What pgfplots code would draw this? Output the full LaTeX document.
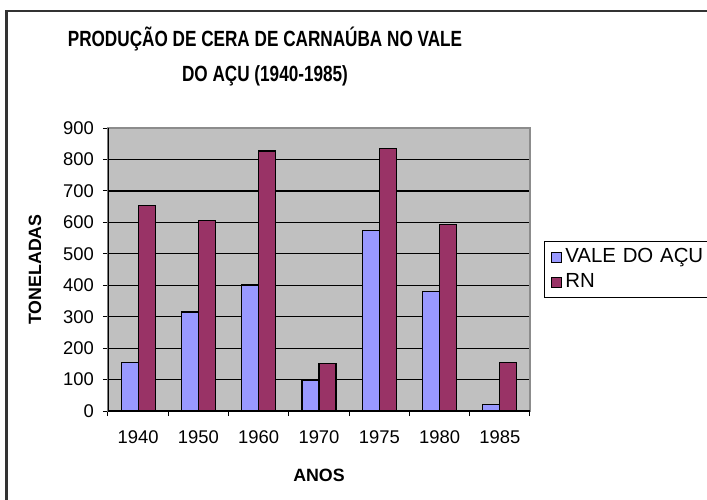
\documentclass[border=0pt]{standalone}
\usepackage{fontspec}
\setmainfont{Liberation Sans}
\usepackage{pgfplots}
\pgfplotsset{compat=1.18}

\definecolor{vale}{HTML}{9999FF}
\definecolor{rn}{HTML}{993366}
\definecolor{plotbg}{HTML}{C0C0C0}

\begin{document}
\begin{tikzpicture}
% page is 707x499 px, 1px = 0.5pt, origin at lower-left corner of plot area
\useasboundingbox (-54pt,-44pt) rectangle (299.5pt,205.5pt);
\clip (-54pt,-44pt) rectangle (299.5pt,205.5pt);
\draw[line width=1.2pt,black!80] (-50.75pt,-80pt) -- (-50.75pt,200pt) -- (330pt,200pt);
\begin{axis}[
  scale only axis, width=211pt, height=141.5pt,
  ybar=0pt, bar width=8.5pt,
  xmin=-0.5, xmax=6.5, ymin=0, ymax=900,
  xtick={0,...,6},
  xticklabels={1940,1950,1960,1970,1975,1980,1985},
  minor xtick={-0.5,0.5,...,6.5},
  ytick={0,100,...,900},
  major x tick style={draw=none},
  minor tick length=2.5pt, major tick length=2.5pt,
  tick align=outside, xtick pos=bottom, ytick pos=left,
  tick style={black, line width=0.5pt},
  ymajorgrids, grid style={black, line width=0.6pt},
  axis background/.style={fill=plotbg},
  axis line style={draw=gray!90, line width=0.6pt},
  /pgf/number format/assume math mode=true,
  tick label style={font=\fontsize{9.2}{10}\selectfont},
  xticklabel style={yshift=-4pt},
  yticklabel style={xshift=-1pt},
  xlabel={ANOS}, ylabel={TONELADAS},
  label style={font=\fontsize{8.9}{10}\selectfont\bfseries},
  xlabel style={at={(axis description cs:0.5,-0.226)}, anchor=center},
  ylabel style={at={(axis description cs:-0.173,0.5)}, anchor=center},
  legend style={at={(axis description cs:1.0332,0.6007)}, anchor=north west,
    draw=black, line width=0.5pt, fill=white,
    font=\fontsize{10.2}{11}\selectfont, text width=80pt,
    inner xsep=3pt, inner ysep=1.5pt, row sep=0pt,
    /tikz/every even column/.append style={column sep=2.5pt}},
  legend cell align=left,
  legend image code/.code={\draw[#1, draw=black, line width=0.4pt] (0pt,-2.5pt) rectangle (5pt,2.5pt);},
]
\addplot[fill=vale, draw=black, line width=0.6pt] coordinates {
  (0,154) (1,315) (2,401) (3,96) (4,575) (5,379) (6,20)};
\addplot[fill=rn, draw=black, line width=0.6pt] coordinates {
  (0,654) (1,607) (2,827) (3,151) (4,835) (5,594) (6,154)};
\legend{VALE DO AÇU, RN}
\draw[black, line width=0.6pt] (rel axis cs:0,1) -- (rel axis cs:0,0) -- (rel axis cs:1,0);
\end{axis}
\node[anchor=base, font=\fontsize{11}{12}\selectfont\bfseries] at (78.5pt,182pt) {\scalebox{0.78}[1]{PRODUÇÃO DE CERA DE CARNAÚBA NO VALE}};
\node[anchor=base, font=\fontsize{11}{12}\selectfont\bfseries] at (78.5pt,164.5pt) {\scalebox{0.78}[1]{DO AÇU (1940-1985)}};
\end{tikzpicture}
\end{document}
